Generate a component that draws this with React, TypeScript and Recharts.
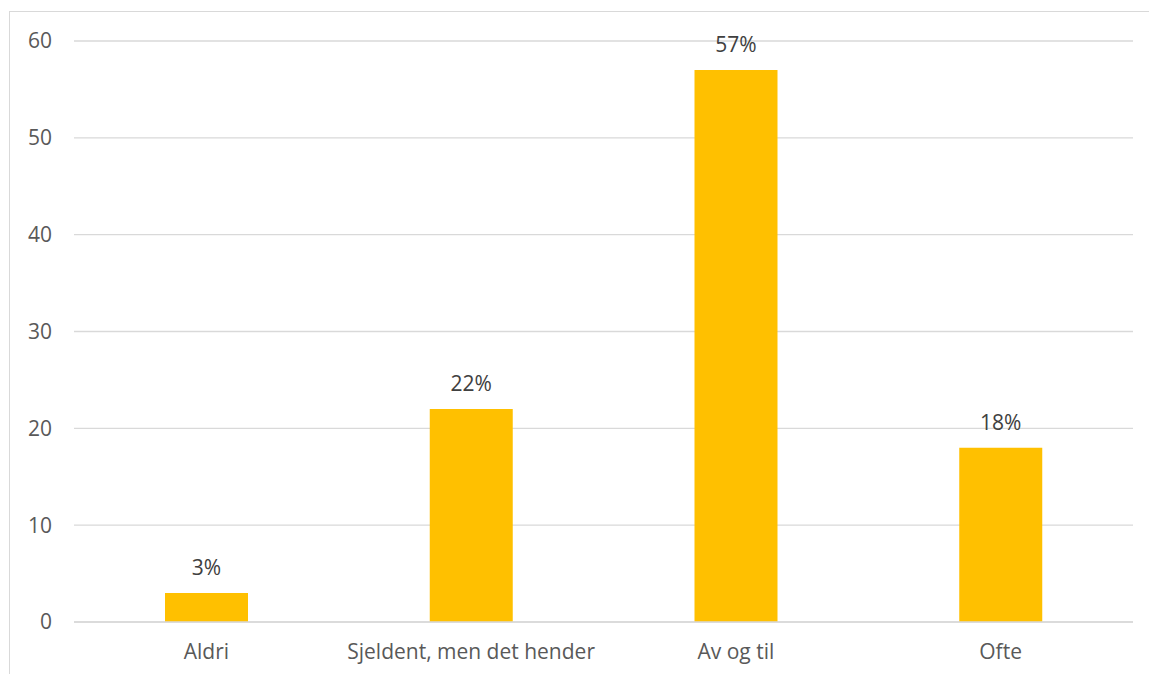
import React from "react";
import { BarChart, Bar, XAxis, YAxis, CartesianGrid, LabelList } from "recharts";

// Response categories and their share (percent)
const categories = ["Aldri", "Sjeldent, men det hender", "Av og til", "Ofte"];
const shares = [3, 22, 57, 18];
const yTicks = [0, 10, 20, 30, 40, 50, 60];

const rows = categories.map((name, i) => ({ name, value: shares[i] }));

const FONT = "'Open Sans', 'DejaVu Sans', sans-serif";

export default function App() {
  return (
    <div style={{ position: "absolute", left: 0, top: 0, width: 1149, height: 674, background: "#fff", overflow: "hidden" }}>
      {/* chart frame */}
      <div
        style={{
          position: "absolute",
          left: 9,
          top: 11,
          width: 1160,
          height: 680,
          border: "1px solid #d9d9d9",
          boxSizing: "border-box",
        }}
      />
      <div style={{ position: "absolute", left: 0, top: 0 }}>
        <BarChart
          width={1149}
          height={674}
          data={rows}
          margin={{ top: 41, right: 16, bottom: 12, left: 0 }}
          barSize={83}
        >
          <CartesianGrid vertical={false} stroke="#d9d9d9" strokeWidth={1.3} />
          <XAxis
            dataKey="name"
            height={40}
            axisLine={{ stroke: "#d9d9d9", strokeWidth: 1.3 }}
            tickLine={false}
            tickMargin={16}
            tick={{ fill: "#595959", fontSize: 21, fontFamily: FONT }}
            interval={0}
          />
          <YAxis
            width={74}
            domain={[0, 60]}
            ticks={yTicks}
            axisLine={false}
            tickLine={false}
            tickMargin={16}
            tick={{ fill: "#595959", fontSize: 21, fontFamily: FONT }}
          />
          <Bar dataKey="value" fill="#ffc000" isAnimationActive={false}>
            <LabelList
              dataKey="value"
              position="top"
              offset={18}
              formatter={(v: number) => `${v}%`}
              style={{ fill: "#404040", fontSize: 21, fontFamily: FONT }}
            />
          </Bar>
        </BarChart>
      </div>
    </div>
  );
}
